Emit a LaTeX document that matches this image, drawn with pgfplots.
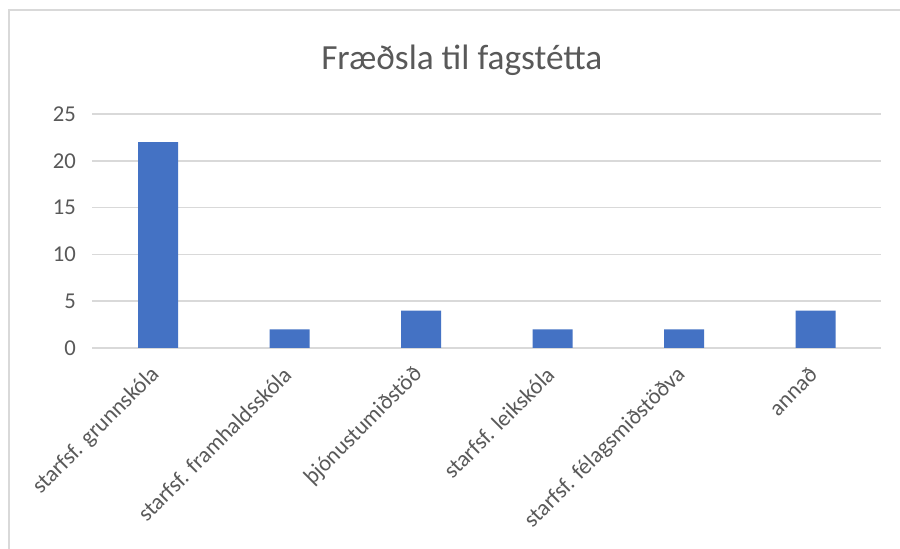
\documentclass[border=0pt]{standalone}
\usepackage{pgfplots}
\pgfplotsset{compat=1.18}
\usepackage{fontspec}
\setmainfont{Carlito}
\definecolor{barblue}{HTML}{4472C4}
\definecolor{gridc}{HTML}{D9D9D9}
\definecolor{txt}{HTML}{595959}
\begin{document}
\begin{tikzpicture}
\useasboundingbox (-69.375pt,-150.75pt) rectangle (605.625pt,261pt);
\fill[white] (-69.375pt,-150.75pt) rectangle (605.625pt,261pt);
\draw[gridc, line width=1.5pt] (-62.6pt,-152pt) -- (-62.6pt,253.5pt) -- (607pt,253.5pt);
\begin{axis}[scale only axis, width=591.75pt, height=175.5pt, at={(0,0)}, anchor=south west,
 ybar, bar width=30pt, xmin=-0.5, xmax=5.5, ymin=0, ymax=25, ytick={0,5,...,25}, xtick=data,
 xticklabels={starfsf. grunnskóla, starfsf. framhaldsskóla, þjónustumiðstöð, starfsf. leikskóla, starfsf. félagsmiðstöðva, annað},
 axis line style={draw=none}, major tick length=0pt, ymajorgrids, grid style={gridc, line width=1.1pt},
 tick label style={font=\fontsize{17}{20}\selectfont, text=txt},
 /pgf/number format/assume math mode=true,
 yticklabel style={xshift=-9pt},
 xticklabel style={rotate=45, anchor=east, yshift=-11pt, xshift=-10pt},
]
\addplot[fill=barblue, draw=none] coordinates {(0,22) (1,2) (2,4) (3,2) (4,2) (5,4)};
\end{axis}
\node[text=txt, font=\fontsize{26.5}{31}\selectfont] at (277pt,216pt) {Fræðsla til fagstétta};
\end{tikzpicture}
\end{document}
